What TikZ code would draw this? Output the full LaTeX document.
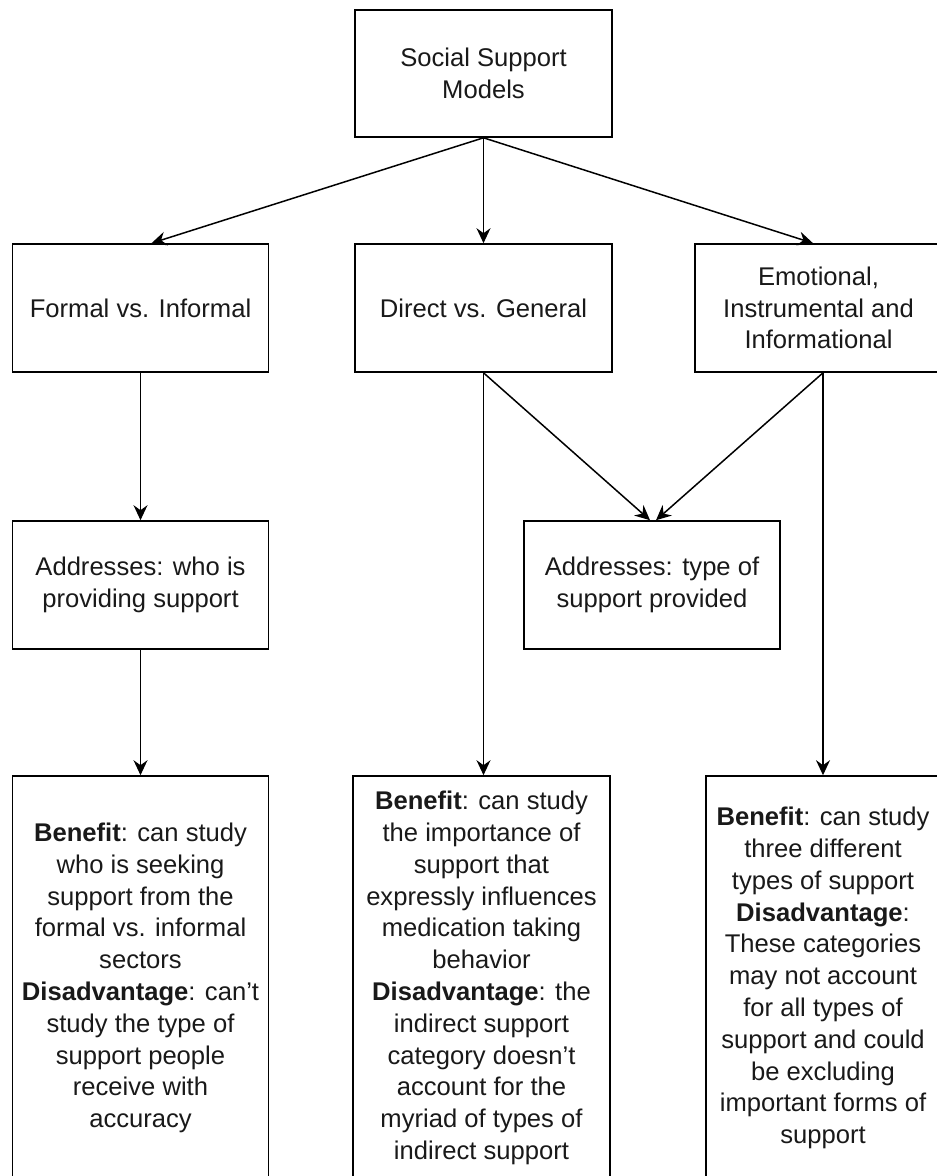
\documentclass[tikz,border=0pt]{standalone}
\usepackage{fontspec}
\setmainfont{Liberation Sans}
\usepackage{tikz}
\usetikzlibrary{calc,positioning,arrows.meta}

\tikzset{
	box/.style={draw, line width=0.8pt, align=center, inner sep=0pt,
		font=\fontsize{12.8}{15.9}\selectfont, text=black!90},
	arr/.style={line width=0.75pt, -{Stealth[length=7.5pt,width=7pt,inset=2.5pt]}},
}

\begin{document}
\begin{tikzpicture}[x=0.5pt,y=-0.5pt]
		\useasboundingbox (0,0) rectangle (936,1176);
		\node[box, minimum width=128.5pt, minimum height=63.5pt] (models) at (483.5,73.5) {Social Support\\ Models};
		
		\node[box, minimum width=128pt, minimum height=64pt] (formal) at (140.5,308) {Formal vs. Informal};
		\node[box, minimum width=128.5pt, minimum height=64pt] (direct) at (483.5,308) {Direct vs. General};
		\node[box, minimum width=123.5pt, minimum height=64pt] (emotional) at (818.5,308) {Emotional,\\ Instrumental and\\ Informational};
		
		\node[box, minimum width=128pt, minimum height=64pt] (who) at (140.5,585) {Addresses: who is\\ providing support};
		\node[box, minimum width=128pt, minimum height=64pt] (type) at (652,585) {Addresses: type of\\ support provided};
		
		\node[box, minimum width=128pt, minimum height=202pt] (whonote) at (140.5,978) {\textbf{Benefit}: can study\\ who is seeking\\ support from the\\ formal vs. informal\\ sectors\\ \textbf{Disadvantage}: can't\\ study the type of\\ support people\\ receive with\\ accuracy};
		\node[box, minimum width=128.5pt, minimum height=202pt] (directnote) at (481.5,978) {\textbf{Benefit}: can study\\ the importance of\\ support that\\ expressly influences\\ medication taking\\ behavior\\ \textbf{Disadvantage}: the\\ indirect support\\ category doesn't\\ account for the\\ myriad of types of\\ indirect support};
		\node[box, minimum width=117pt, minimum height=202pt] (emotionalnote) at (823,978) {\textbf{Benefit}: can study\\ three different\\ types of support\\ \textbf{Disadvantage}:\\ These categories\\ may not account\\ for all types of\\ support and could\\ be excluding\\ important forms of\\ support};
		
		\coordinate (dsouth) at (direct.south);
		\coordinate (esouth) at ($(emotional.south)+(4.5,0)$);
		
		\draw[arr] (models.south) -- ($(formal.north)+(11,0)$);
		\draw[arr] (models.south) -- (direct.north);
		\draw[arr] (models.south) -- ($(emotional.north)+(-5.5,0)$);
		
		\draw[arr] (formal.south) -- (who.north);
		\draw[arr] (who.south) -- (whonote.north);
		
		\draw[arr] (dsouth) -- ($(type.north)+(-2,0)$);
		\draw[arr] (esouth) -- ($(type.north)+(4,0)$);
		\draw[arr] (dsouth) -- (dsouth |- directnote.north);
		\draw[arr] (esouth) -- (esouth |- emotionalnote.north);
	\end{tikzpicture}
\end{document}
